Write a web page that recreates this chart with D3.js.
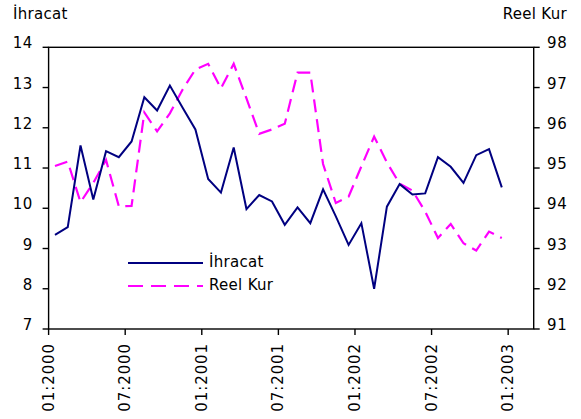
<!DOCTYPE html>
<html>
<head>
<meta charset="utf-8">
<script src="https://cdn.jsdelivr.net/npm/d3@7"></script>
<style>
  body { margin: 0; background: #fff; }
  text { font-family: "DejaVu Sans", sans-serif; fill: #000; font-size: 15px; }
</style>
</head>
<body>
<svg id="chart"></svg>
<script>
// months on the category axis (the last two have no data)
const months = [
  '01:2000', '02:2000', '03:2000', '04:2000', '05:2000', '06:2000',
  '07:2000', '08:2000', '09:2000', '10:2000', '11:2000', '12:2000',
  '01:2001', '02:2001', '03:2001', '04:2001', '05:2001', '06:2001',
  '07:2001', '08:2001', '09:2001', '10:2001', '11:2001', '12:2001',
  '01:2002', '02:2002', '03:2002', '04:2002', '05:2002', '06:2002',
  '07:2002', '08:2002', '09:2002', '10:2002', '11:2002', '12:2002',
  '01:2003', '02:2003'
];
const tickLabels = ['01:2000', '07:2000', '01:2001', '07:2001', '01:2002', '07:2002', '01:2003'];

const ihracat = [
  9.34, 9.53, 11.56, 10.22, 11.42, 11.27, 11.66, 12.76, 12.43, 13.05, 12.5, 11.96,
  10.73, 10.39, 11.51, 9.98, 10.33, 10.17, 9.59, 10.02, 9.63, 10.47, 9.8, 9.09,
  9.63, 8.0, 10.04, 10.6, 10.34, 10.37, 11.27, 11.03, 10.63, 11.32, 11.47, 10.52
];
const reelKur = [
  95.05, 95.16, 94.15, 94.63, 95.2, 94.05, 94.06, 96.38, 95.91, 96.36, 96.95, 97.45,
  97.59, 96.98, 97.59, 96.73, 95.85, 95.96, 96.1, 97.37, 97.37, 95.1, 94.13, 94.29,
  95.04, 95.78, 95.14, 94.61, 94.44, 93.92, 93.26, 93.61, 93.13, 92.95, 93.42, 93.26
];
const leftTicks = [7, 8, 9, 10, 11, 12, 13, 14];
const rightTicks = [91, 92, 93, 94, 95, 96, 97, 98];

const w = 581, h = 419;
const plotL = 48.6, plotR = 533.7, plotT = 47.3, plotB = 329;

const svg = d3.select('#chart')
  .attr('width', w)
  .attr('height', h);

const x = d3.scaleBand()
  .domain(months)
  .range([plotL, plotR])
  .paddingInner(0);
const yL = d3.scaleLinear().domain([7, 14]).range([plotB, plotT]);
const yR = d3.scaleLinear().domain([91, 98]).range([plotB, plotT]);

const cx = (d, i) => x(months[i]) + x.bandwidth() / 2;

// frame
svg.append('rect')
  .attr('x', plotL).attr('y', plotT)
  .attr('width', plotR - plotL).attr('height', plotB - plotT)
  .attr('fill', 'none').attr('stroke', '#000').attr('stroke-width', 1.4);

// left axis
const gl = svg.append('g');
gl.selectAll('line').data(leftTicks).join('line')
  .attr('x1', plotL - 6).attr('x2', plotL)
  .attr('y1', d => yL(d)).attr('y2', d => yL(d))
  .attr('stroke', '#000').attr('stroke-width', 1.4);
gl.selectAll('text').data(leftTicks).join('text')
  .attr('x', 33).attr('y', d => yL(d) - 4)
  .attr('text-anchor', 'end').attr('dominant-baseline', 'central')
  .style('letter-spacing', '0.6px')
  .text(d => d);

// right axis
const gr = svg.append('g');
gr.selectAll('line').data(rightTicks).join('line')
  .attr('x1', plotR).attr('x2', plotR + 6)
  .attr('y1', d => yR(d)).attr('y2', d => yR(d))
  .attr('stroke', '#000').attr('stroke-width', 1.4);
gr.selectAll('text').data(rightTicks).join('text')
  .attr('x', 547).attr('y', d => yR(d) - 4)
  .attr('text-anchor', 'start').attr('dominant-baseline', 'central')
  .style('letter-spacing', '0.6px')
  .text(d => d);

// bottom axis
const gb = svg.append('g');
gb.selectAll('line').data(tickLabels).join('line')
  .attr('x1', d => x(d)).attr('x2', d => x(d))
  .attr('y1', plotB).attr('y2', plotB + 6)
  .attr('stroke', '#000').attr('stroke-width', 1.4);
gb.selectAll('text').data(tickLabels).join('text')
  .attr('transform', d => `translate(${x(d)}, 343) rotate(-90)`)
  .attr('text-anchor', 'end').attr('dominant-baseline', 'central')
  .style('letter-spacing', '0.9px')
  .text(d => d);

// axis titles
svg.append('text').attr('x', 13).attr('y', 19)
  .style('letter-spacing', '0.3px').text('İhracat');
svg.append('text').attr('x', 567).attr('y', 19)
  .attr('text-anchor', 'end')
  .style('letter-spacing', '0.3px').text('Reel Kur');

// lines
const lineL = d3.line().x(cx).y(d => yL(d));
const lineR = d3.line().x(cx).y(d => yR(d));

svg.append('path')
  .datum(reelKur)
  .attr('d', lineR)
  .attr('fill', 'none')
  .attr('stroke', '#ff00ff')
  .attr('stroke-width', 2.2)
  .attr('stroke-dasharray', '13,7');

svg.append('path')
  .datum(ihracat)
  .attr('d', lineL)
  .attr('fill', 'none')
  .attr('stroke', '#000080')
  .attr('stroke-width', 2);

// legend
const legend = svg.append('g');
legend.append('line')
  .attr('x1', 128).attr('x2', 203).attr('y1', 263).attr('y2', 263)
  .attr('stroke', '#000080').attr('stroke-width', 2);
legend.append('text').attr('x', 209).attr('y', 262)
  .attr('dominant-baseline', 'central')
  .style('letter-spacing', '0.3px').text('İhracat');
legend.append('line')
  .attr('x1', 128).attr('x2', 203).attr('y1', 286).attr('y2', 286)
  .attr('stroke', '#ff00ff').attr('stroke-width', 2.2)
  .attr('stroke-dasharray', '15,8');
legend.append('text').attr('x', 209).attr('y', 285)
  .attr('dominant-baseline', 'central')
  .style('letter-spacing', '0.3px').text('Reel Kur');
</script>
</body>
</html>
